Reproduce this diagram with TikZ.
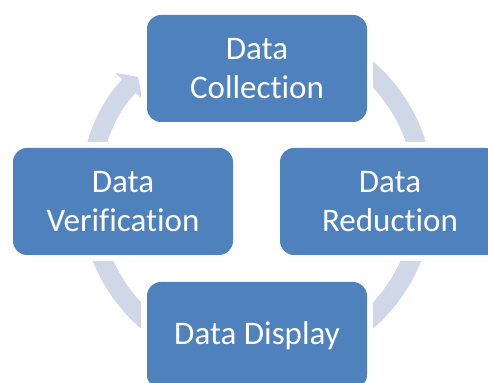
\documentclass[tikz,border=0pt]{standalone}
\usepackage{fontspec}
\setmainfont{Carlito}[Ligatures=NoCommon]
\usetikzlibrary{arrows.meta}
\definecolor{stageblue}{HTML}{4F81BD}
\definecolor{ringgrey}{HTML}{D0D8E8}
\tikzset{
    stage/.style={rectangle, rounded corners=14pt, fill=stageblue, text=white,
        minimum width=220pt, minimum height=107pt, inner sep=0pt, align=center,
        font=\fontsize{33}{39}\selectfont,
        preaction={draw=white, line width=12pt}},
    loopring/.style={draw=ringgrey, line width=19pt,
        -{Triangle[width=37pt, length=13pt]}}
}

\begin{document}
\begin{tikzpicture}[x=1pt, y=1pt]
        % four stages on a circle, the grey ring runs round behind them
% and only shows its head between verification and collection

\useasboundingbox (0,0) rectangle (488,383);
\coordinate (hub) at (257,188);

\draw[loopring] ([shift={(100:167.5)}]hub) 
    arc[start angle=100, end angle=-224.8, radius=167.5];

\node[stage] (collection) at (257,314.5) {Data\\Collection};
\node[stage] (reduction) at (390,181.5) {Data\\Reduction};
\node[stage] (display) at (257,47.5) {Data Display};
\node[stage] (verification) at (123,181.5) {Data\\Verification};

    \end{tikzpicture}
\end{document}
